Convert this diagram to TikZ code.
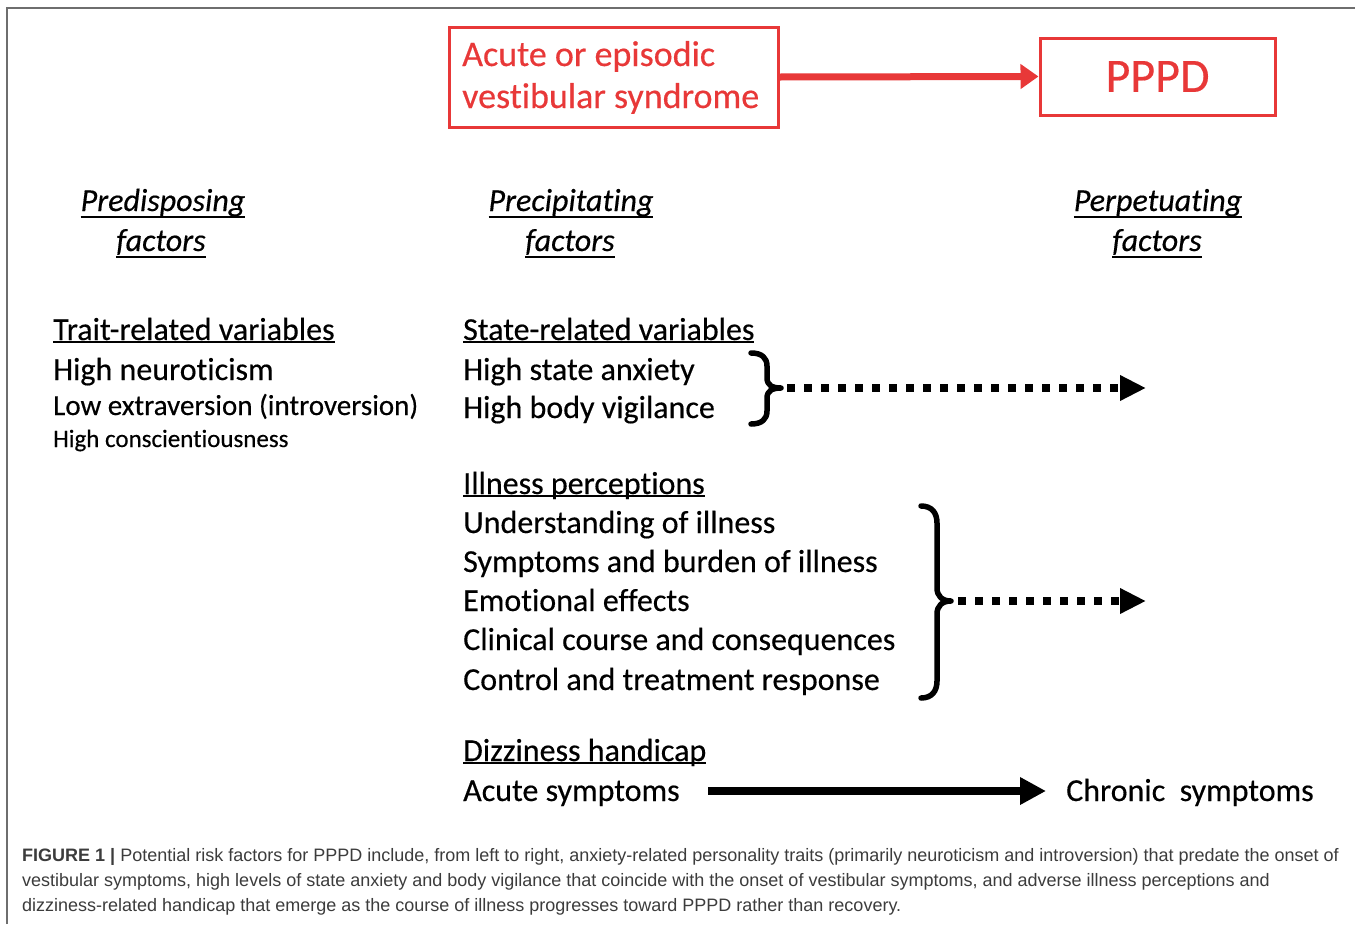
\documentclass[tikz,border=0pt]{standalone}
\usepackage{fontspec}
\setmainfont{Carlito}[FakeBold=0.35, RawFeature={-liga,-clig,-calt,-dlig,-rlig}]
\newfontfamily\capfont{Liberation Sans}
\usetikzlibrary{arrows.meta}
\definecolor{pred}{RGB}{232,56,56}
\definecolor{framegray}{RGB}{110,110,110}
\definecolor{captext}{RGB}{60,60,60}
\newcommand\ulx[2][0.1em]{\setbox0=\hbox{#2}\dimen0=\wd0\rlap{\box0}\rule[-#1]{\dimen0}{0.07em}}
\tikzset{
  txt/.style={inner sep=0pt, anchor=base west, font=\fontsize{32}{38}\selectfont},
  hdr/.style={inner sep=0pt, anchor=base, font=\fontsize{32}{38}\selectfont\itshape},
  redbox/.style={draw=pred, line width=3pt, text=pred, inner sep=0pt},
  captxt/.style={inner sep=0pt, anchor=base west, text=captext, font=\capfont\fontsize{18}{21}\selectfont},
  dotarrow/.style={line width=8pt, dash pattern=on 8pt off 9pt, -{Triangle[length=26pt,width=24pt]}},
  solidarrow/.style={line width=8pt, -{Triangle[length=26pt,width=26pt]}},
  bracepath/.style={line width=5.5pt, line cap=round, line join=round},
}
\begin{document}
\begin{tikzpicture}[x=1pt,y=-1pt]
\useasboundingbox (0,0) rectangle (1355,924);
\fill[white] (0,0) rectangle (1355,924);
% frame
\draw[framegray, line width=1.5pt] (7,924) -- (7,8) -- (1355,8);

% red boxes
\node[redbox, minimum width=329pt, minimum height=100pt] (acute) at (613.5,77) {};
\node[inner sep=0pt, anchor=base west, text=pred, font=\fontsize{36}{42}\selectfont] (acute1) at (462,66) {Acute or episodic};
\node[inner sep=0pt, anchor=base west, text=pred, font=\fontsize{36}{42}\selectfont] (acute2) at (462,108) {vestibular syndrome};
\node[redbox, minimum width=235pt, minimum height=77pt, font=\fontsize{48}{54}\selectfont] (pppd) at (1157.5,76.5) {PPPD};
\draw[pred, line width=7pt, -{Triangle[length=18pt,width=24pt]}] (acute.east) -- (pppd.west);

% column headers
\node[hdr] (pre1) at (163,211) {\ulx[0.22em]{Predisposing}};
\node[hdr] (pre2) at (161,251) {\ulx[0.22em]{factors}};
\node[hdr] (prc1) at (571,211) {\ulx[0.22em]{Precipitating}};
\node[hdr] (prc2) at (570,251) {\ulx[0.22em]{factors}};
\node[hdr] (per1) at (1158,211) {\ulx[0.22em]{Perpetuating}};
\node[hdr] (per2) at (1157,251) {\ulx[0.22em]{factors}};

% left column
\node[txt] (trait) at (53,340) {\ulx{Trait-related variables}};
\node[txt] (neuro) at (53,380) {High neuroticism};
\node[txt, font=\fontsize{29}{34}\selectfont] (extra) at (53,415) {Low extraversion (introversion)};
\node[txt, font=\fontsize{25}{30}\selectfont] (consc) at (53,447) {High conscientiousness};

% middle column
\node[txt] (state) at (463,340) {\ulx{State-related variables}};
\node[txt] (anx) at (463,380) {High state anxiety};
\node[txt] (vig) at (463,418) {High body vigilance};

\node[txt] (ill) at (463,494) {\ulx{Illness perceptions}};
\node[txt] (ill1) at (463,533) {Understanding of illness};
\node[txt] (ill2) at (463,572) {Symptoms and burden of illness};
\node[txt] (ill3) at (463,611) {Emotional effects};
\node[txt] (ill4) at (463,650) {Clinical course and consequences};
\node[txt] (ill5) at (463,690) {Control and treatment response};

\node[txt] (diz) at (463,761) {\ulx{Dizziness handicap}};
\node[txt] (acs) at (463,801) {Acute symptoms};
\node[txt] (chs) at (1066,801) {Chronic\ \ symptoms};

% braces
\draw[bracepath] (751,353) .. controls (762,353) and (767,358) .. (767,366) -- (767,378)
  .. controls (767,385) and (772,388) .. (781,388)
  .. controls (772,388) and (767,391) .. (767,398) -- (767,411)
  .. controls (767,419) and (762,424) .. (751,424);
\coordinate (b1) at (787,388);
\coordinate (b1end) at (1146,388);
\draw[bracepath] (921,506) .. controls (932,506) and (937,513) .. (937,523) -- (937,588)
  .. controls (937,596) and (942,601) .. (951,601)
  .. controls (942,601) and (937,606) .. (937,614) -- (937,681)
  .. controls (937,691) and (932,698) .. (921,698);
\coordinate (b2) at (958,601);
\coordinate (b2end) at (1146,601);

% arrows
\draw[dotarrow] (b1) -- (b1end);
\draw[dotarrow] (b2) -- (b2end);
\coordinate (a1) at (708,791);
\coordinate (a2) at (1046,791);
\draw[solidarrow] (a1) -- (a2);

% caption
\node[captxt] (cap1) at (22,861) {\textbf{FIGURE 1 |} Potential risk factors for PPPD include, from left to right, anxiety-related personality traits (primarily neuroticism and introversion) that predate the onset of};
\node[captxt] (cap2) at (22,886) {vestibular symptoms, high levels of state anxiety and body vigilance that coincide with the onset of vestibular symptoms, and adverse illness perceptions and};
\node[captxt] (cap3) at (22,911) {dizziness-related handicap that emerge as the course of illness progresses toward PPPD rather than recovery.};
\end{tikzpicture}
\end{document}
